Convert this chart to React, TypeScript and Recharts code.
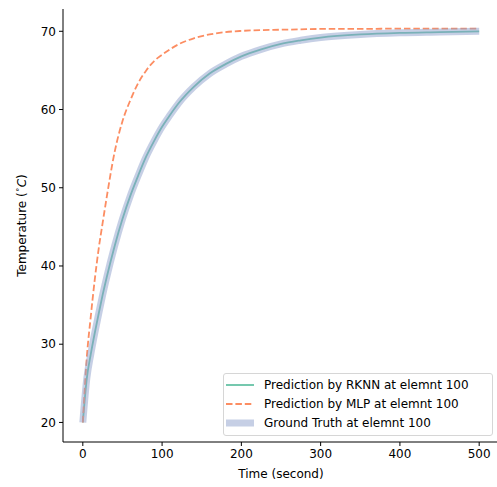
import React from 'react';
import { LineChart, Line, XAxis, YAxis, Label } from 'recharts';

// time steps (second)
const times = [0, 5, 10, 15, 20, 25, 30, 40, 50, 60, 70, 80, 90, 100, 110, 120, 140, 160, 180, 200, 225, 250, 275, 300, 350, 400, 450, 500];
// temperature
const rknn = [20, 25.6, 28.7, 31.4, 33.9, 36.3, 38.5, 42.5, 46.0, 49.0, 51.6, 54.0, 56.0, 57.8, 59.3, 60.7, 62.9, 64.6, 65.8, 66.8, 67.7, 68.4, 68.85, 69.2, 69.6, 69.8, 69.9, 70.0];
const mlp = [20, 28.3, 33.5, 38.2, 42.2, 45.5, 48.7, 54.5, 58.5, 61.2, 63.4, 65.0, 66.2, 67.0, 67.7, 68.3, 69.1, 69.6, 69.9, 70.05, 70.15, 70.2, 70.25, 70.3, 70.3, 70.35, 70.35, 70.35];
const truth = [20, 25.6, 28.7, 31.4, 33.9, 36.3, 38.5, 42.5, 46.0, 49.0, 51.6, 54.0, 56.0, 57.8, 59.3, 60.7, 62.9, 64.6, 65.8, 66.8, 67.7, 68.4, 68.85, 69.2, 69.6, 69.8, 69.9, 70.0];

const xTicks = [0, 100, 200, 300, 400, 500];
const yTicks = [20, 30, 40, 50, 60, 70];

const seriesNames = ['Prediction by RKNN at elemnt 100', 'Prediction by MLP at elemnt 100', 'Ground Truth at elemnt 100'];

const chartData = times.map((t, i) => ({ t, rknn: rknn[i], mlp: mlp[i], truth: truth[i] }));

const FONT = '"DejaVu Sans", sans-serif';

const YLabel = ({ viewBox }: any) => {
  const cx = 22;
  const cy = viewBox.y + viewBox.height / 2;
  return (
    <text x={cx} y={cy} transform={`rotate(-90, ${cx}, ${cy})`} textAnchor="middle" dominantBaseline="central" fontFamily={FONT} fontSize={12} fill="#000">
      Temperature (<tspan fontSize={8} dy={-5}>∘</tspan><tspan dy={5} fontStyle="italic">C</tspan>)
    </text>
  );
};

const LegendBox = () => (
  <div style={{ position: 'absolute', left: 223, top: 373, border: '1px solid #d6d6d6', borderRadius: 3, background: 'rgba(255,255,255,0.85)', padding: '1px 6px 3px 2px', fontFamily: FONT, fontSize: 12, color: '#000', width: 270, boxSizing: 'border-box' }}>
    {seriesNames.map((name, i) => (
      <div key={name} style={{ display: 'flex', alignItems: 'center', height: 19 }}>
        <svg width={28} height={10} style={{ marginRight: 10, flexShrink: 0 }}>
          {i === 0 && <line x1={0} y1={5} x2={28} y2={5} stroke="#66c2a5" strokeWidth={1.8} />}
          {i === 1 && <line x1={0} y1={5} x2={28} y2={5} stroke="#fc8d62" strokeWidth={1.8} strokeDasharray="6.5 2.9" />}
          {i === 2 && <line x1={0} y1={5} x2={28} y2={5} stroke="#8da0cb" strokeOpacity={0.5} strokeWidth={7} />}
        </svg>
        <span style={{ whiteSpace: 'nowrap' }}>{name}</span>
      </div>
    ))}
  </div>
);

const App: React.FC = () => {
  return (
    <div style={{ position: 'fixed', left: 0, top: 0, width: 497, height: 487, overflow: 'hidden', background: '#fff' }}>
      <LineChart width={510} height={487} data={chartData} margin={{ top: 9, right: 11, left: 0, bottom: 5 }}>
        <XAxis
          xAxisId="top"
          orientation="top"
          dataKey="t"
          type="number"
          domain={[-25, 525]}
          height={0}
          tick={false}
          tickLine={false}
          axisLine={{ stroke: '#000', strokeWidth: 1 }}
        />
        <XAxis
          dataKey="t"
          type="number"
          domain={[-25, 525]}
          ticks={xTicks}
          height={40}
          tickSize={4}
          tickMargin={3}
          tick={{ fill: '#000', fontSize: 12, fontFamily: FONT }}
          axisLine={{ stroke: '#000', strokeWidth: 1 }}
          tickLine={{ stroke: '#000', strokeWidth: 1 }}
        >
          <Label value="Time (second)" position="insideBottom" offset={4} style={{ fill: '#000', fontSize: 12, fontFamily: FONT }} />
        </XAxis>
        <YAxis
          type="number"
          domain={[17.5, 72.85]}
          ticks={yTicks}
          width={63}
          tickSize={4}
          tickMargin={3}
          tick={{ fill: '#000', fontSize: 12, fontFamily: FONT }}
          axisLine={{ stroke: '#000', strokeWidth: 1 }}
          tickLine={{ stroke: '#000', strokeWidth: 1 }}
        >
          <Label content={<YLabel />} />
        </YAxis>
        <Line dataKey="rknn" name={seriesNames[0]} type="monotone" stroke="#66c2a5" strokeWidth={1.8} dot={false} isAnimationActive={false} />
        <Line dataKey="mlp" name={seriesNames[1]} type="monotone" stroke="#fc8d62" strokeWidth={1.8} strokeDasharray="6.5 2.9" dot={false} isAnimationActive={false} />
        <Line dataKey="truth" name={seriesNames[2]} type="monotone" stroke="#8da0cb" strokeOpacity={0.5} strokeWidth={7} dot={false} isAnimationActive={false} />
      </LineChart>
      <LegendBox />
    </div>
  );
};

export default App;
